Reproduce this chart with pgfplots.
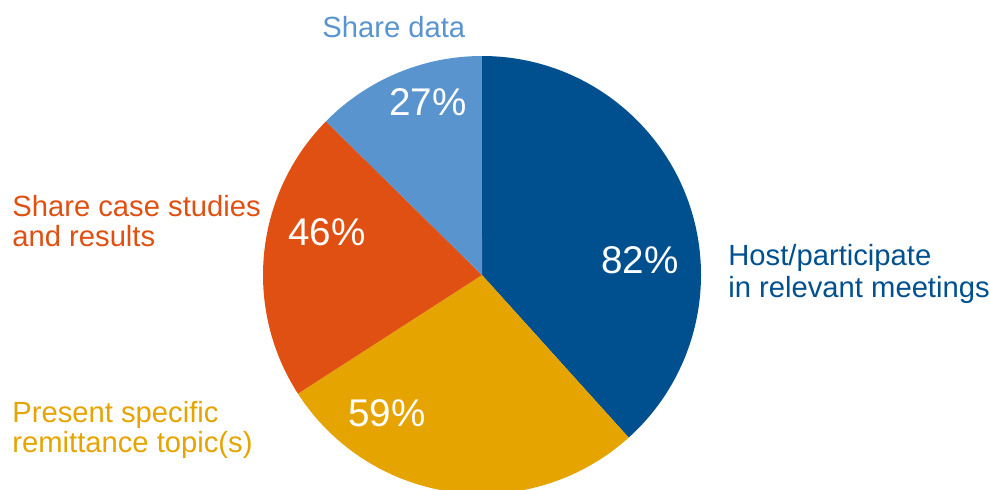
\documentclass[border=0pt]{standalone}
\usepackage{pgfplots}
\pgfplotsset{compat=1.18}
\usepackage{fontspec}
\setmainfont{Liberation Sans}
\definecolor{cHost}{HTML}{00508F}
\definecolor{cPres}{HTML}{E5A400}
\definecolor{cCase}{HTML}{E05012}
\definecolor{cData}{HTML}{5A94CF}
\begin{document}
\begin{tikzpicture}
% values (percent of respondents)
\def\vA{82}% Host/participate in relevant meetings
\def\vB{59}% Present specific remittance topic(s)
\def\vC{46}% Share case studies and results
\def\vD{27}% Share data
\pgfmathsetmacro\tot{\vA+\vB+\vC+\vD}
\pgfmathsetmacro\aA{90-\vA/\tot*360}
\pgfmathsetmacro\aB{\aA-\vB/\tot*360}
\pgfmathsetmacro\aC{\aB-\vC/\tot*360}
\pgfmathsetmacro\aD{\aC-\vD/\tot*360}
\def\cx{482}\def\cy{214}\def\rr{219}
\begin{axis}[x=0.5pt,y=0.5pt,xmin=0,xmax=990,ymin=0,ymax=489,hide axis,clip=true]
\coordinate (ll) at (axis cs:0,0);
\coordinate (ur) at (axis cs:990,489);
\fill[cHost] (axis cs:\cx,\cy) -- (axis cs:\cx,{\cy+\rr}) arc[start angle=90,end angle=\aA,radius=109.5pt] -- cycle;
\fill[cPres] (axis cs:\cx,\cy) -- (axis cs:{\cx+\rr*cos(\aA)},{\cy+\rr*sin(\aA)}) arc[start angle=\aA,end angle=\aB,radius=109.5pt] -- cycle;
\fill[cCase] (axis cs:\cx,\cy) -- (axis cs:{\cx+\rr*cos(\aB)},{\cy+\rr*sin(\aB)}) arc[start angle=\aB,end angle=\aC,radius=109.5pt] -- cycle;
\fill[cData] (axis cs:\cx,\cy) -- (axis cs:{\cx+\rr*cos(\aC)},{\cy+\rr*sin(\aC)}) arc[start angle=\aC,end angle=\aD,radius=109.5pt] -- cycle;
% percentage labels
\tikzset{pct/.style={anchor=base,text=white,inner sep=0pt,font=\fontsize{19.3}{22}\selectfont},
 lab/.style={anchor=base west,inner sep=0pt,font=\fontsize{14.6}{16}\selectfont}}
\node[pct] at (axis cs:640,{489-273}) {\vA\%};
\node[pct] at (axis cs:387,{489-426}) {\vB\%};
\node[pct] at (axis cs:327,{489-245}) {\vC\%};
\node[pct] at (axis cs:428,{489-115}) {\vD\%};
% category labels
\node[lab,text=cData] at (axis cs:322,{489-37}) {Share data};
\node[lab,text=cHost] at (axis cs:728,{489-265}) {Host/participate};
\node[lab,text=cHost] at (axis cs:728,{489-297}) {in relevant meetings};
\node[lab,text=cCase] at (axis cs:12,{489-216}) {Share case studies};
\node[lab,text=cCase] at (axis cs:12,{489-246}) {and results};
\node[lab,text=cPres] at (axis cs:12,{489-422}) {Present specific};
\node[lab,text=cPres] at (axis cs:12,{489-452}) {remittance topic(s)};
\end{axis}
\pgfresetboundingbox
\path[use as bounding box] (ll) rectangle (ur);
\end{tikzpicture}
\end{document}
